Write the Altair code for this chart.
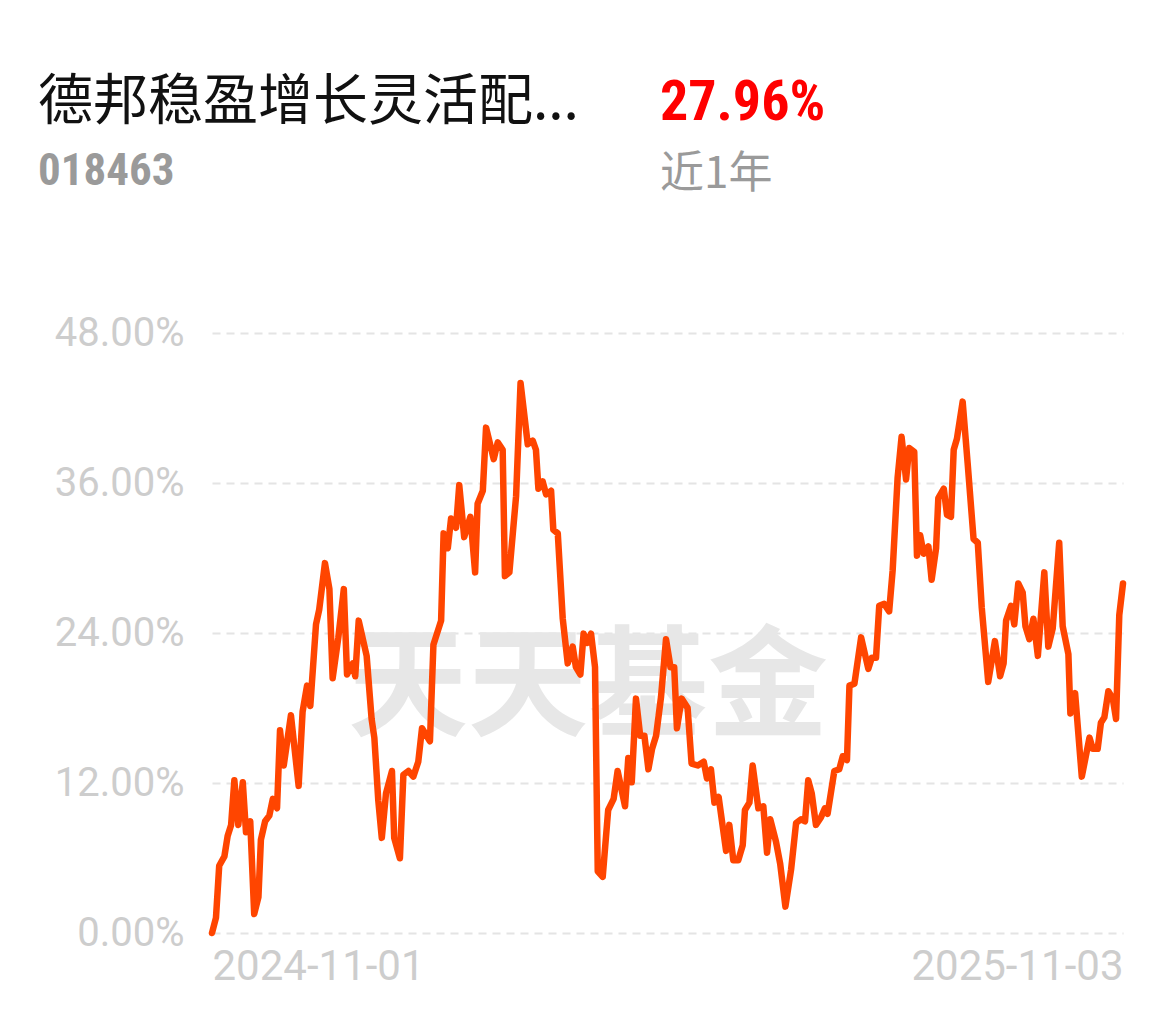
import altair as alt
import pandas as pd

# ---- data ----
day_offsets = [
    0, 1.6, 2.9, 5.0, 6.3, 7.7, 9.0, 10.6, 12.4, 13.7, 15.4, 17.0, 18.7, 19.7, 21.4, 23.1, 24.5, 26.2,
    27.4, 28.9, 31.8, 34.9, 36.5, 38.3, 39.6, 41.9, 43.2, 45.5, 47.3, 48.6, 50.9, 53.1, 54.4, 56.7,
    57.7, 59.1, 62.3, 64.3, 65.4, 67.0, 68.4, 70.1, 72.5, 73.4, 75.7, 77.1, 79.1, 81.1, 83.1, 84.6,
    87.8, 89.2, 92.3, 93.3, 95.0, 96.3, 98.3, 99.6, 101.6, 104.1, 106.0, 107.0, 109.1, 110.4, 113.5,
    115.1, 117.1, 118.0, 119.8, 122.5, 124.3, 127.2, 129.2, 130.5, 131.5, 133.2, 134.6, 136.6, 137.5,
    139.3, 141.3, 143.3, 145.3, 146.6, 148.4, 149.7, 151.1, 152.7, 154.3, 155.4, 157.4, 159.6, 161.8,
    163.4, 166.4, 167.7, 169.1, 170.8, 172.5, 174.2, 175.8, 177.3, 178.9, 180.9, 182.9, 184.7, 186.2,
    187.3, 189.2, 191.6, 193.2, 195.7, 198.1, 199.4, 201.0, 202.4, 204.1, 207.1, 208.4, 210.0, 212.0,
    213.8, 214.7, 216.5, 217.8, 220.1, 222.1, 223.6, 224.9, 227.2, 228.9, 231.0, 233.3, 235.3, 237.3,
    238.9, 240.2, 241.6, 243.3, 245.3, 246.9, 248.0, 250.7, 252.7, 254.1, 255.8, 256.8, 258.8, 261.5,
    264.4, 265.8, 267.5, 268.8, 270.8, 272.8, 274.2, 276.2, 277.8, 279.6, 280.9, 282.9, 284.0, 285.3,
    286.7, 288.6, 289.9, 291.7, 292.6, 294.8, 296.1, 297.7, 298.8, 300.1, 302.4, 304.4, 306.8, 308.5,
    310.1, 312.7, 315.4, 317.5, 318.9, 319.9, 321.9, 323.2, 324.8, 326.6, 327.7, 329.3, 330.9, 332.7,
    335.3, 336.9, 338.7, 341.3, 342.7, 345.0, 345.8, 347.7, 350.4, 353.5, 354.8, 356.8, 358.1, 359.5,
    361.1, 362.9, 364.2, 365.5, 367.0,
]
returns = [
    0.00, 1.22, 5.38, 6.13, 7.76, 8.64, 12.22, 8.64, 12.06, 8.06, 8.94, 1.52, 2.86, 7.46, 8.94, 9.39,
    10.73, 9.98, 16.22, 13.40, 17.42, 11.77, 17.71, 19.79, 18.16, 24.69, 25.88, 29.59, 27.51, 20.38,
    23.65, 27.51, 20.68, 21.57, 20.54, 24.99, 22.17, 17.12, 15.63, 10.58, 7.61, 11.18, 12.96, 7.61,
    5.98, 12.66, 12.96, 12.51, 13.70, 16.38, 15.34, 23.06, 24.99, 31.97, 30.78, 33.16, 32.42, 35.83,
    31.67, 33.30, 28.85, 34.34, 35.38, 40.43, 37.91, 39.25, 38.66, 28.55, 28.85, 34.94, 44.00, 39.10,
    39.39, 38.66, 35.54, 36.13, 35.09, 35.38, 32.26, 31.97, 25.14, 21.57, 22.91, 21.27, 20.68, 23.95,
    23.21, 23.95, 21.27, 4.94, 4.49, 9.84, 10.73, 12.96, 10.14, 14.00, 12.06, 18.75, 15.78, 15.78,
    13.10, 14.74, 15.78, 18.90, 23.50, 21.27, 21.27, 16.38, 18.75, 18.01, 13.55, 13.40, 13.70, 12.36,
    13.10, 10.43, 10.88, 6.57, 8.65, 5.82, 5.82, 7.02, 9.84, 10.43, 13.40, 9.98, 10.14, 6.42, 9.10,
    7.31, 5.53, 2.11, 5.09, 8.80, 9.10, 8.94, 12.22, 11.18, 8.65, 9.24, 9.98, 9.54, 12.96, 13.10,
    14.14, 13.84, 19.79, 19.94, 23.65, 21.13, 22.02, 22.02, 26.18, 26.33, 25.73, 29.00, 36.42, 39.70,
    36.28, 38.80, 38.50, 30.18, 31.82, 30.34, 30.93, 28.26, 30.78, 34.79, 35.54, 33.46, 33.30, 38.66,
    39.54, 42.51, 37.62, 31.52, 31.22, 26.02, 20.09, 23.35, 20.54, 21.57, 24.99, 26.18, 24.69, 27.96,
    27.22, 24.54, 23.50, 25.14, 22.17, 28.85, 22.91, 24.39, 31.22, 24.54, 22.31, 17.56, 19.19, 12.51,
    15.63, 14.74, 14.74, 16.82, 17.26, 19.34, 18.75, 17.12, 25.43, 27.96,
]
y_ticks = [0, 12, 24, 36, 48]
x_labels = ["2024-11-01", "2025-11-03"]
fund_name = "德邦稳盈增长灵活配..."
fund_code = "018463"
period_return = "27.96%"
period_label = "近1年"
watermark = "天天基金"

# ---- build table ----
start = pd.Timestamp(x_labels[0])
df = pd.DataFrame({
    "date": start + pd.to_timedelta(day_offsets, unit="D"),
    "ret": returns,
})


def to_dt(s):
    y, m, d = map(int, s.split("-"))
    return alt.DateTime(year=y, month=m, date=d)


x_dates = [to_dt(s) for s in x_labels]

LABEL_GRAY = "#cdcdcd"
CJK = "Noto Sans CJK SC"
NARROW = "Liberation Sans Narrow, Roboto Condensed, Roboto"

x_enc = alt.X(
    "date:T",
    scale=alt.Scale(domain=x_dates),
    axis=alt.Axis(
        values=x_dates, format="%Y-%m-%d", labelFlush=True, grid=False, ticks=False,
        domain=False, labelColor=LABEL_GRAY, labelFontSize=42, labelFont="Roboto",
        labelPadding=13, labelLimit=600, title=None,
    ),
)
y_enc = alt.Y(
    "ret:Q",
    scale=alt.Scale(domain=[y_ticks[0], y_ticks[-1]], nice=False, zero=False),
    axis=alt.Axis(
        values=y_ticks, labelExpr="format(datum.value, '.2f') + '%'", grid=True,
        gridDash=[8, 6], gridColor="#e4e4e4", gridWidth=2, domain=False, ticks=False,
        labelColor=LABEL_GRAY, labelFontSize=40, labelFont="Roboto", labelPadding=28,
        labelLimit=400, title=None,
    ),
)

wm = alt.Chart(pd.DataFrame({"t": [watermark]})).mark_text(
    font=CJK, fontSize=120, fontWeight="bold", color="#e7e7e7", align="center",
    baseline="middle",
).encode(text="t:N", x=alt.value(376), y=alt.value(358))

line = alt.Chart(df).mark_line(
    color="#ff4500", strokeWidth=6.5, strokeJoin="round", strokeCap="round", clip=False,
).encode(x=x_enc, y=y_enc)


def label(txt, x, y, size, color, weight="normal", font=CJK):
    return alt.Chart(pd.DataFrame({"t": [txt]})).mark_text(
        font=font, fontSize=size, fontWeight=weight, color=color, align="left",
        baseline="alphabetic",
    ).encode(text="t:N", x=alt.value(x), y=alt.value(y))


t1 = label(fund_name, -174, -214, 55, "#111111")
t2 = label(fund_code, -174, -148, 45, "#9a9a9a", "bold", NARROW)
t3 = label(period_return, 448, -213, 56, "#ff0000", "bold", NARROW)
t4 = label(period_label, 448, -145, 44, "#9a9a9a")

chart = alt.layer(wm, line, t1, t2, t3, t4).properties(
    width=911,
    height=600,
    padding={"left": 204, "top": 325, "right": 44, "bottom": 75},
    autosize=alt.AutoSizeParams(type="none"),
    background="white",
).configure_view(stroke=None)

chart.save("out.html", embed_options={"renderer": "svg", "actions": False})
